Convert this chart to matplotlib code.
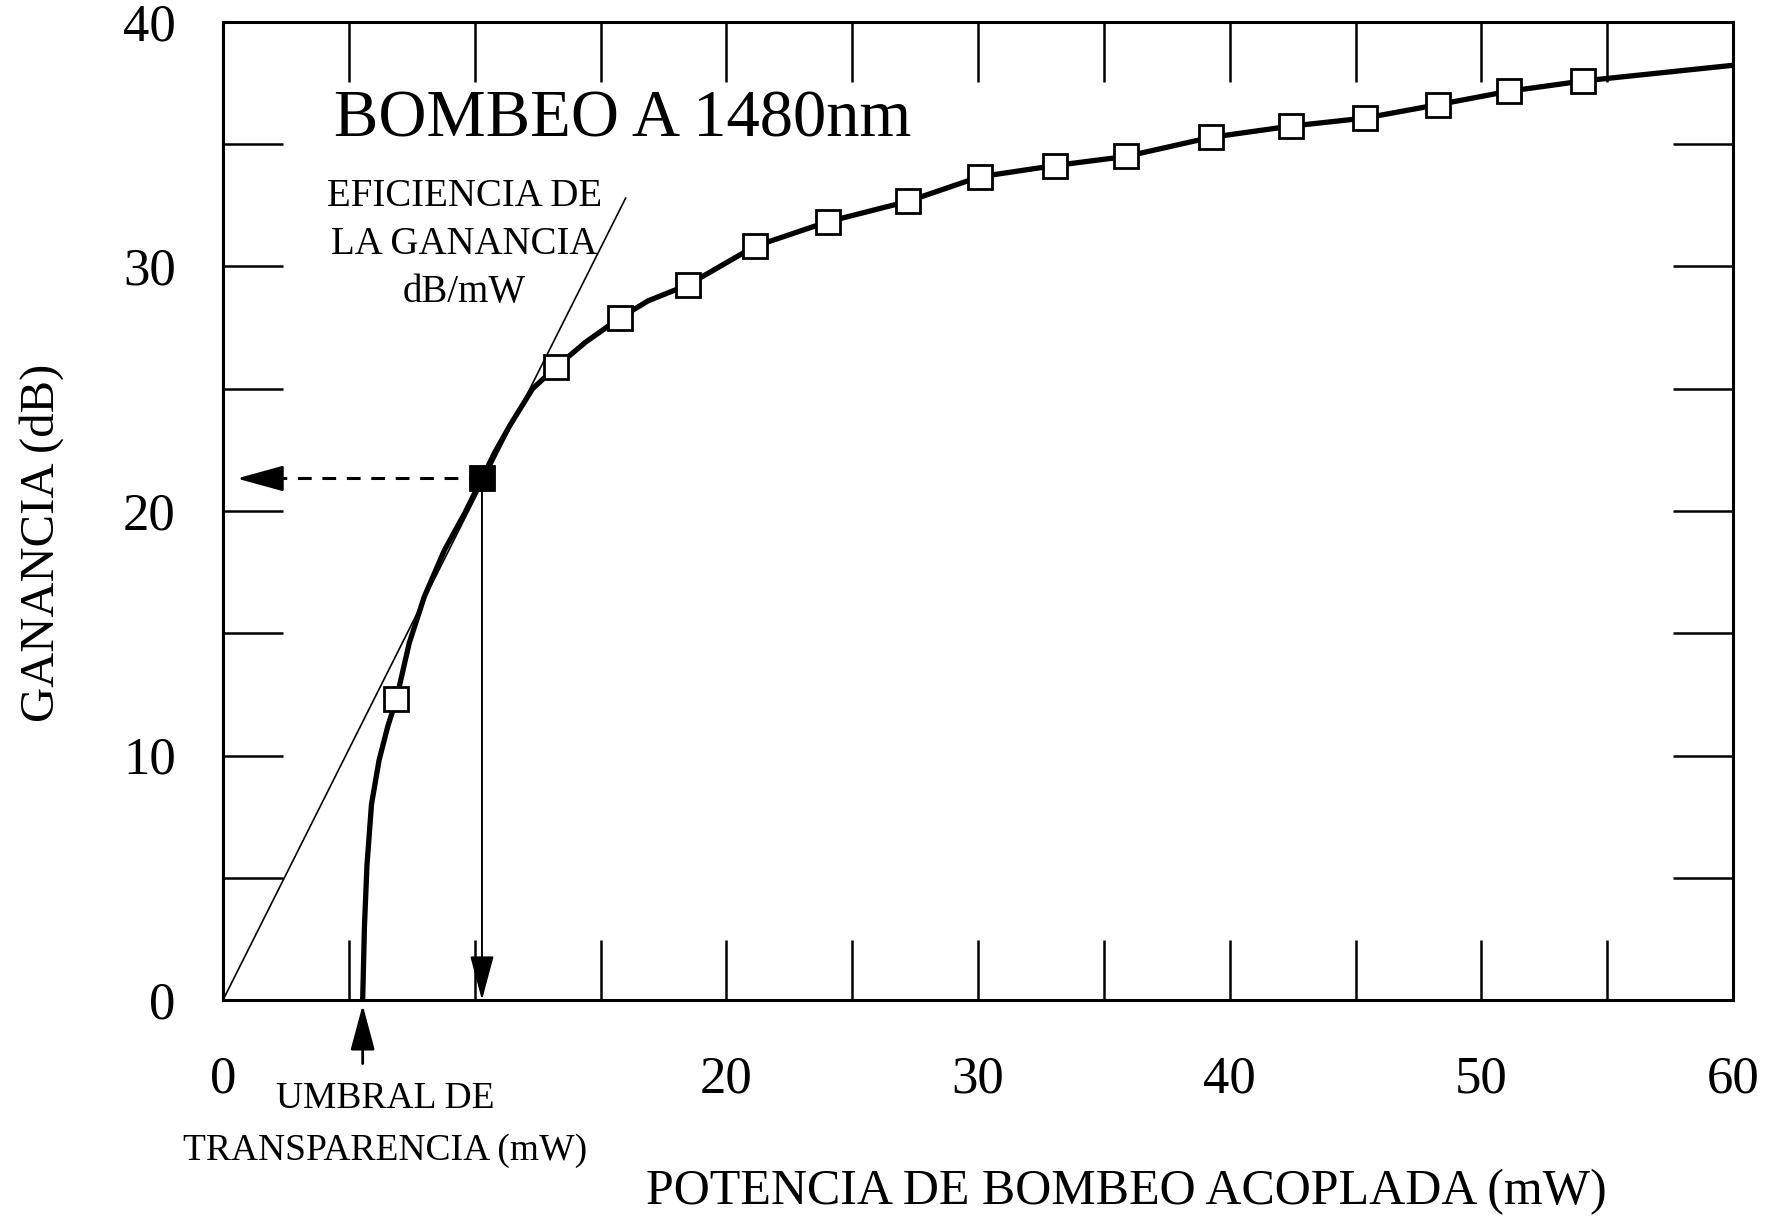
import numpy as np
import matplotlib
matplotlib.use("Agg")
import matplotlib.pyplot as plt

plt.rcParams['font.family'] = ['Liberation Serif', 'DejaVu Serif']

# Puntos medidos (cuadrados) : potencia acoplada (mW) y ganancia (dB)
potencia_pts = [6.89, 10.29, 13.24, 15.79, 18.48, 21.12, 24.03, 27.20, 30.07,
                33.06, 35.88, 39.24, 42.42, 45.37, 48.28, 51.10, 54.05]
ganancia_pts = [12.30, 21.33, 25.89, 27.91, 29.25, 30.82, 31.83, 32.66, 33.67,
                34.13, 34.50, 35.28, 35.74, 36.07, 36.62, 37.17, 37.59]
idx_marcado = 1  # punto relleno (punto de tangencia)

# Curva de ganancia trazada
curva_x = [5.55, 5.62, 5.72, 5.90, 6.20, 6.55, 6.89, 7.40, 8.00, 8.80, 9.60,
           10.29, 10.80, 11.40, 12.30, 13.24, 14.40, 15.79, 16.90, 18.48, 21.12,
           24.03, 27.20, 30.07, 33.06, 35.88, 39.24, 42.42, 45.37, 48.28, 51.10,
           54.05, 60.0]
curva_y = [0.0, 3.0, 5.5, 8.0, 9.8, 11.2, 12.30, 14.6, 16.5, 18.4, 19.9,
           21.33, 22.4, 23.5, 25.0, 25.89, 26.9, 27.91, 28.6, 29.25, 30.82,
           31.83, 32.66, 33.67, 34.13, 34.50, 35.28, 35.74, 36.07, 36.62, 37.17,
           37.59, 38.23]

# Recta de eficiencia (dB/mW) y umbral de transparencia
eficiencia = 2.05
recta_x = [0.0, 16.0]
umbral = 5.55

xticks_pos = np.arange(0, 61, 5)
xtick_labels = ['0', '', '', '', '20', '', '30', '', '40', '', '50', '', '60']
yticks_pos = np.arange(0, 41, 5)
ytick_labels = ['0', '', '10', '', '20', '', '30', '', '40']

fig = plt.figure(figsize=(17.66, 12.18), dpi=100)
ax = fig.add_axes([223 / 1766, 1 - 1000 / 1218, 1510 / 1766, 978 / 1218])

# recta tangente
ax.plot(recta_x, [eficiencia * v for v in recta_x], color='black', lw=1.2)

# curva y puntos
ax.plot(curva_x, curva_y, color='black', lw=3.8, solid_capstyle='butt')
ax.plot(potencia_pts, ganancia_pts, 's', ms=17, mfc='white', mec='black', mew=2)
ax.plot(potencia_pts[idx_marcado], ganancia_pts[idx_marcado], 's', ms=17,
        mfc='black', mec='black')

xm = potencia_pts[idx_marcado]
ym = ganancia_pts[idx_marcado]

# flecha horizontal discontinua hacia el eje de ganancia
ax.plot([2.0, xm], [ym, ym], color='black', lw=2.2, ls=(0, (4.5, 3.5)))
ax.annotate('', xy=(0.55, ym), xytext=(2.3, ym),
            arrowprops=dict(arrowstyle='-|>,head_length=2.9,head_width=0.8',
                            color='black', lw=2, shrinkA=0, shrinkB=0))

# flecha vertical hacia el eje de potencia
ax.annotate('', xy=(xm, 0), xytext=(xm, ym),
            arrowprops=dict(arrowstyle='-|>,head_length=2.8,head_width=0.75',
                            color='black', lw=1.4, shrinkA=0, shrinkB=0))

# flecha del umbral de transparencia
ax.annotate('', xy=(umbral, -0.2), xytext=(umbral, -2.6),
            arrowprops=dict(arrowstyle='-|>,head_length=2.8,head_width=0.75',
                            color='black', lw=2, shrinkA=0, shrinkB=0),
            annotation_clip=False)

ax.text(4.41, 36.0, 'BOMBEO A 1480nm', fontsize=48, ha='left', va='center')
ax.text(9.58, 30.9, 'EFICIENCIA DE\nLA GANANCIA\ndB/mW', fontsize=28,
        ha='center', va='center', linespacing=1.4)
ax.text(6.44, -4.05, 'UMBRAL DE', fontsize=27,
        ha='center', va='center', clip_on=False)
ax.text(6.44, -6.15, 'TRANSPARENCIA (mW)', fontsize=27,
        ha='center', va='center', clip_on=False)

ax.set_xlim(0, 60)
ax.set_ylim(0, 40)
ax.set_xticks(xticks_pos)
ax.set_xticklabels(xtick_labels)
ax.set_yticks(yticks_pos)
ax.set_yticklabels(ytick_labels)
ax.tick_params(direction='in', length=43, width=1.8, labelsize=38,
               top=True, right=True)
ax.tick_params(axis='x', pad=40)
ax.tick_params(axis='y', pad=34)
for s in ax.spines.values():
    s.set_linewidth(2.2)

ax.set_xlabel('POTENCIA DE BOMBEO ACOPLADA (mW)', fontsize=36)
ax.xaxis.set_label_coords(0.598, -0.172)
ax.set_ylabel('GANANCIA (dB)', fontsize=35)
ax.yaxis.set_label_coords(-0.105, 0.467)

fig.savefig('out.png', dpi=100)
